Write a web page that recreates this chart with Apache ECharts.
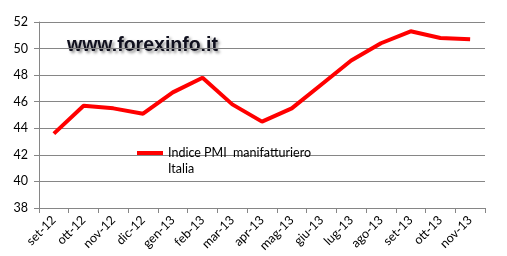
<!DOCTYPE html>
<html><head><meta charset="utf-8">
<script src="https://cdn.jsdelivr.net/npm/echarts@6/dist/echarts.min.js"></script>
<style>html,body{margin:0;padding:0;background:#fff}#c{width:507px;height:256px}</style>
</head><body><div id="c"></div>
<script>
var categories = ['set-12','ott-12','nov-12','dic-12','gen-13','feb-13','mar-13','apr-13','mag-13','giu-13','lug-13','ago-13','set-13','ott-13','nov-13'];
var pmiValues = [43.6,45.7,45.5,45.1,46.7,47.8,45.8,44.5,45.5,47.3,49.1,50.4,51.3,50.8,50.7];
var seriesName = 'Indice PMI  manifatturiero\nItalia';
var yMin = 38, yMax = 52, yStep = 2;

var chart = echarts.init(document.getElementById('c'));
var font = 'Lato, "Open Sans", sans-serif';
chart.setOption({
  animation: false,
  grid: {left: 39, right: 22, top: 22, bottom: 48},
  legend: {
    show: true, left: 137, top: 129, padding: 0,
    icon: 'rect', itemWidth: 26, itemHeight: 4,
    data: [{name: seriesName, itemStyle: {color: '#ff0000'}}],
    formatter: function (n) { return ' \n' + n; },
    textStyle: {fontFamily: font, fontSize: 12.5, color: '#000', lineHeight: 16}
  },
  graphic: [{
    type: 'text', left: 67, top: 36,
    style: {
      text: 'www.forexinfo.it', fontFamily: '"Liberation Sans", Arial, sans-serif', fontWeight: 'bold', fontSize: 19.5,
      fill: '#10101e', textShadowColor: 'rgba(0,0,0,0.45)', textShadowBlur: 3, textShadowOffsetX: 2, textShadowOffsetY: 2
    }
  }],
  xAxis: {
    type: 'category', data: categories, boundaryGap: true,
    axisLine: {lineStyle: {color: '#868686', width: 1}},
    axisTick: {show: true, length: 5, alignWithLabel: false, lineStyle: {color: '#868686'}},
    axisLabel: {rotate: 45, fontFamily: font, fontSize: 12.5, color: '#000', margin: 10, interval: 0}
  },
  yAxis: {
    type: 'value', min: yMin, max: yMax, interval: yStep,
    axisLine: {show: true, lineStyle: {color: '#868686'}},
    axisTick: {show: true, length: 5, lineStyle: {color: '#868686'}},
    splitLine: {lineStyle: {color: '#868686', width: 1}},
    axisLabel: {fontFamily: font, fontSize: 12.5, color: '#000', margin: 11}
  },
  series: [{
    name: seriesName, type: 'line', data: pmiValues,
    symbol: 'none', lineStyle: {color: '#ff0000', width: 4}, itemStyle: {color: '#ff0000'}
  }]
});
</script></body></html>
